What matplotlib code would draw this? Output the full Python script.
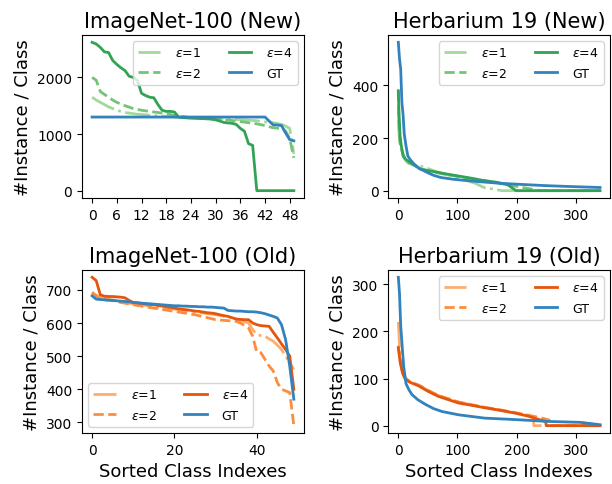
import matplotlib
matplotlib.use('Agg')
import matplotlib.pyplot as plt

# ImageNet-100 (New), 50 classes
in_new_x = list(range(50))
in_new_e1 = [1650, 1600, 1560, 1520, 1480, 1450, 1420, 1400, 1380, 1370,
             1360, 1350, 1345, 1340, 1330, 1325, 1320, 1315, 1310, 1305,
             1300, 1298, 1295, 1292, 1290, 1287, 1284, 1282, 1280, 1277,
             1275, 1272, 1270, 1266, 1262, 1258, 1254, 1250, 1245, 1240,
             1235, 1225, 1215, 1205, 1200, 1185, 1170, 1140, 1100, 650]
in_new_e2 = [2000, 1950, 1750, 1700, 1650, 1600, 1560, 1530, 1500, 1475,
             1450, 1435, 1420, 1410, 1400, 1390, 1380, 1370, 1360, 1345,
             1330, 1320, 1310, 1300, 1290, 1285, 1280, 1275, 1270, 1265,
             1260, 1255, 1250, 1245, 1240, 1230, 1220, 1210, 1200, 1190,
             1180, 1165, 1150, 1130, 1110, 1105, 1100, 1050, 920, 580]
in_new_e4 = [2620, 2590, 2530, 2450, 2440, 2300, 2230, 2170, 2120, 2020,
             2000, 1950, 1720, 1680, 1650, 1640, 1520, 1420, 1400, 1400,
             1390, 1300, 1290, 1285, 1280, 1278, 1275, 1272, 1268, 1264,
             1250, 1230, 1205, 1195, 1190, 1170, 1100, 1050, 830, 800,
             0, 0, 0, 0, 0, 0, 0, 0, 0, 0]
in_new_gt = [1300] * 43 + [1230, 1160, 1160, 1150, 1020, 900, 880]

# ImageNet-100 (Old), 50 classes
in_old_x = list(range(50))
in_old_e1 = [690, 684, 678, 675, 672, 670, 668, 665, 662, 660,
             658, 656, 654, 653, 651, 650, 648, 647, 645, 644,
             642, 640, 638, 637, 635, 633, 632, 630, 628, 627,
             625, 623, 621, 619, 616, 612, 608, 604, 600, 580,
             565, 562, 560, 552, 545, 533, 520, 500, 480, 460]
in_old_e2 = [693, 682, 672, 670, 669, 668, 665, 662, 660, 657,
             655, 653, 651, 649, 647, 645, 643, 641, 639, 637,
             635, 633, 631, 629, 627, 625, 622, 619, 616, 613,
             610, 609, 608, 607, 606, 605, 600, 593, 585, 560,
             512, 510, 490, 470, 455, 420, 400, 395, 390, 290]
in_old_e4 = [738, 728, 685, 681, 680, 680, 679, 678, 676, 668,
             662, 661, 659, 657, 656, 655, 653, 651, 649, 647,
             645, 643, 641, 640, 638, 636, 635, 633, 631, 630,
             628, 625, 622, 620, 616, 612, 611, 610, 610, 600,
             595, 592, 591, 590, 572, 555, 537, 520, 500, 400]
in_old_gt = [682, 672, 671, 670, 669, 668, 667, 666, 665, 664,
             662, 661, 660, 659, 658, 657, 656, 655, 654, 653,
             652, 652, 651, 651, 650, 650, 649, 649, 648, 648,
             647, 646, 645, 638, 637, 636, 636, 635, 634, 634,
             633, 631, 628, 624, 620, 615, 595, 550, 470, 370]

# Herbarium 19 (New), 342 classes, sampled class indexes
hb_new_gt_x = [0, 2, 4, 6, 8, 10, 13, 16, 20, 27, 35, 49, 60, 72, 94, 127,
               166, 197, 250, 300, 341]
hb_new_gt = [564, 500, 462, 335, 290, 215, 170, 132, 118, 100, 85, 69, 58,
             50, 43, 36, 29, 25, 19, 15, 12]
hb_new_e4_x = [0, 1, 3, 5, 8, 12, 16, 25, 38, 50, 66, 80, 101, 127, 140,
               166, 185, 199, 341]
hb_new_e4 = [380, 300, 208, 170, 132, 120, 113, 100, 81, 76, 70, 64, 56,
             46, 40, 32, 22, 0, 0]
hb_new_e2_x = [0, 1, 2, 4, 8, 12, 16, 25, 38, 50, 66, 80, 101, 127, 150,
               180, 210, 240, 341]
hb_new_e2 = [380, 260, 190, 170, 140, 118, 108, 98, 84, 76, 68, 62, 54,
             44, 36, 25, 12, 0, 0]
hb_new_e1_x = [0, 1, 3, 5, 8, 12, 16, 25, 40, 55, 70, 90, 110, 130, 145,
               160, 175, 341]
hb_new_e1 = [300, 220, 180, 160, 135, 115, 105, 100, 92, 80, 68, 56, 42,
             28, 12, 6, 0, 0]

# Herbarium 19 (Old), 342 classes, sampled class indexes
hb_old_gt_x = [0, 2, 4, 7, 9, 13, 18, 23, 33, 46, 60, 74, 102, 146, 196,
               252, 308, 341]
hb_old_gt = [315, 280, 212, 160, 126, 89, 76, 66, 55, 45, 36, 30, 23, 16,
             13, 9, 7, 2]
hb_old_e4_x = [0, 3, 7, 12, 20, 35, 50, 68, 85, 102, 125, 146, 170, 196,
               220, 235, 249, 250, 341]
hb_old_e4 = [165, 135, 112, 98, 92, 84, 73, 62, 55, 48, 43, 38, 33, 27,
             20, 14, 9, 0, 0]
hb_old_e2_x = [0, 3, 7, 12, 20, 35, 50, 68, 85, 102, 125, 146, 170, 196,
               220, 240, 255, 256, 341]
hb_old_e2 = [170, 140, 115, 100, 93, 86, 75, 64, 57, 50, 44, 39, 34, 28,
             22, 17, 12, 0, 0]
hb_old_e1_x = [0, 2, 5, 9, 15, 25, 40, 60, 80, 102, 125, 150, 175, 200,
               220, 228, 229, 341]
hb_old_e1 = [220, 170, 125, 105, 98, 90, 82, 68, 58, 50, 44, 38, 32, 26,
             22, 18, 0, 0]

greens = ['#a1d99b', '#74c476', '#31a354']
oranges = ['#fdae6b', '#fd8d3c', '#e6550d']
gt_color = '#3182bd'
labels = [r'$\varepsilon$=1', r'$\varepsilon$=2', r'$\varepsilon$=4', 'GT']
styles = [(0, (9, 1.6, 1, 1.6)), '--', '-']

fig, axes = plt.subplots(2, 2, figsize=(6.12, 4.85), dpi=100)
fig.subplots_adjust(left=0.134, right=0.997, top=0.926, bottom=0.105,
                    wspace=0.38, hspace=0.44)


def draw(ax, series, gt, colors, title, loc):
    for (x, y), c, ls, lab in zip(series, colors, styles, labels[:3]):
        ax.plot(x, y, color=c, linestyle=ls, lw=2, label=lab)
    ax.plot(gt[0], gt[1], color=gt_color, lw=2, label='GT')
    ax.set_title(title, fontsize=15)
    ax.set_ylabel('#Instance / Class', fontsize=13)
    ax.tick_params(labelsize=10)
    ax.legend(ncol=2, fontsize=9, loc=loc, handlelength=1.8,
              handletextpad=1.2, columnspacing=2.2, labelspacing=0.6)


draw(axes[0, 0], [(in_new_x, in_new_e1), (in_new_x, in_new_e2), (in_new_x, in_new_e4)],
     (in_new_x, in_new_gt), greens, 'ImageNet-100 (New)', 'upper right')
axes[0, 0].set_xticks(range(0, 49, 6))

draw(axes[0, 1], [(hb_new_e1_x, hb_new_e1), (hb_new_e2_x, hb_new_e2), (hb_new_e4_x, hb_new_e4)],
     (hb_new_gt_x, hb_new_gt), greens, 'Herbarium 19 (New)', 'upper right')

draw(axes[1, 0], [(in_old_x, in_old_e1), (in_old_x, in_old_e2), (in_old_x, in_old_e4)],
     (in_old_x, in_old_gt), oranges, 'ImageNet-100 (Old)', 'lower left')
axes[1, 0].set_xlabel('Sorted Class Indexes', fontsize=13)

draw(axes[1, 1], [(hb_old_e1_x, hb_old_e1), (hb_old_e2_x, hb_old_e2), (hb_old_e4_x, hb_old_e4)],
     (hb_old_gt_x, hb_old_gt), oranges, 'Herbarium 19 (Old)', 'upper right')
axes[1, 1].set_xlabel('Sorted Class Indexes', fontsize=13)

fig.savefig('out.png', dpi=100)
